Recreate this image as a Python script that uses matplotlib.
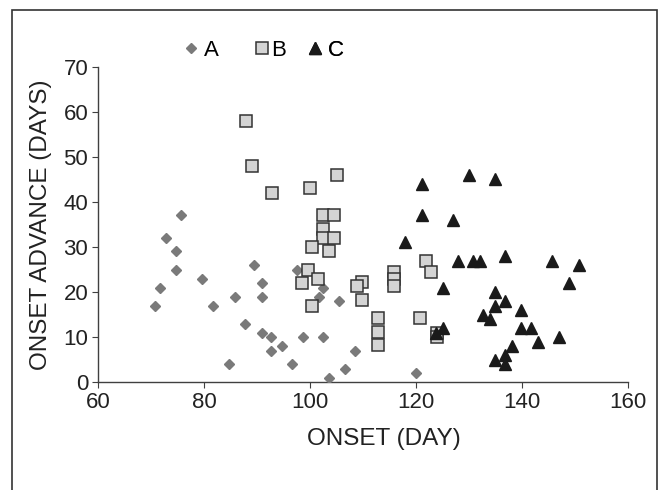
import matplotlib
matplotlib.use("Agg")
from matplotlib import pyplot as plt
from matplotlib.patches import Rectangle

# series A (diamonds)
a_onset = [70.7, 71.7, 72.9, 74.7, 74.7, 75.7, 79.6, 81.8, 84.7, 85.8, 87.7, 89.5,
           90.9, 90.9, 90.9, 92.7, 92.7, 94.8, 96.7, 97.6, 98.8, 101.7, 102.5, 102.5,
           103.7, 105.6, 106.6, 108.6, 120.0]
a_advance = [17, 21, 32, 29, 25, 37, 23, 17, 4, 19, 13, 26,
             22, 19, 11, 10, 7, 8, 4, 25, 10, 19, 21, 10,
             1, 18, 3, 7, 2]

# series B (squares)
b_onset = [88.0, 89.0, 92.8, 100.0, 105.1, 102.5, 104.5, 102.5, 102.5, 104.5, 100.5,
           103.6, 99.6, 98.6, 101.5, 100.5, 121.9, 122.8, 109.9, 108.9, 109.9,
           115.9, 115.9, 115.9, 112.9, 112.9, 112.9, 120.9, 124.0, 124.0]
b_advance = [58, 48, 42, 43, 46, 37, 37, 34, 32, 32, 30,
             29, 25, 22, 23, 17, 27, 24.4, 22.3, 21.4, 18.2,
             24.5, 22.9, 21.3, 14.2, 11.2, 8.3, 14.2, 11, 10]

# series C (triangles)
c_onset = [130.1, 134.9, 121.1, 121.1, 127.0, 118.0, 127.9, 130.9, 132.1, 136.9,
           145.8, 150.8, 148.9, 125.2, 134.9, 134.9, 136.9, 139.9, 132.7, 134.0,
           139.9, 141.8, 143.1, 147.0, 138.1, 136.9, 134.9, 136.9, 123.9, 125.1]
c_advance = [46, 45, 44, 37, 36, 31, 27, 27, 27, 28,
             27, 26, 22, 21, 20, 17, 18, 16, 15, 14,
             12, 12, 9, 10, 8, 6, 5, 4, 11, 12]

x_ticks = [60, 80, 100, 120, 140, 160]
y_ticks = [0, 10, 20, 30, 40, 50, 60, 70]

plt.rcParams['font.family'] = ['Liberation Sans', 'DejaVu Sans']

fig = plt.figure(figsize=(6.63, 4.90), dpi=100)
ax = fig.add_axes([98 / 663, 1 - 382 / 490, (627.5 - 98) / 663, (382 - 67) / 490])

la, = ax.plot(a_onset, a_advance, 'D', ms=5.3, color='#7a7a7a', mec='#7a7a7a', zorder=3)
lb, = ax.plot(b_onset, b_advance, 's', ms=8, mfc='#d4d4d4', mec='#333333', mew=1.1, zorder=4)
lc, = ax.plot(c_onset, c_advance, '^', ms=8, color='#1a1a1a', zorder=5)

ax.set_xlim(60, 160)
ax.set_ylim(0, 70)
ax.set_xticks(x_ticks)
ax.set_yticks(y_ticks)
for s in ['top', 'right']:
    ax.spines[s].set_visible(False)
for s in ['left', 'bottom']:
    ax.spines[s].set_color('#404040')
    ax.spines[s].set_linewidth(1.0)
ax.tick_params(axis='both', labelsize=16, length=4, color='#404040', labelcolor='#222222', pad=3)

ax.set_xlabel("ONSET (DAY)", fontsize=17.5, color='#222222', labelpad=18)
ax.xaxis.set_label_coords((384 - 98) / 529.5, -0.18)
ax.xaxis.label.set_verticalalignment('center')
ax.set_ylabel("ONSET ADVANCE (DAYS)", fontsize=17.5, color='#222222', labelpad=8)

# one legend entry each, so the uneven spacing of the original can be kept
legend_items = [(la, 'A', 182.7, 0.2), (lb, 'B', 253.7, 0.05), (lc, 'C', 306.7, 0.2)]
for handle, name, left, pad in legend_items:
    leg = ax.legend([handle], [name], loc='center left', bbox_to_anchor=(left / 663, 1 - 50 / 490),
                    bbox_transform=fig.transFigure, frameon=False, fontsize=16,
                    handletextpad=pad, handlelength=0.75, borderpad=0, borderaxespad=0)
    ax.add_artist(leg)

fig.patches.append(Rectangle((12 / 663, -0.05), (657 - 12) / 663, 1.05 - 10 / 490,
                             transform=fig.transFigure, fill=False, edgecolor='#333333', lw=1.2))

plt.savefig("out.png", dpi=100)
